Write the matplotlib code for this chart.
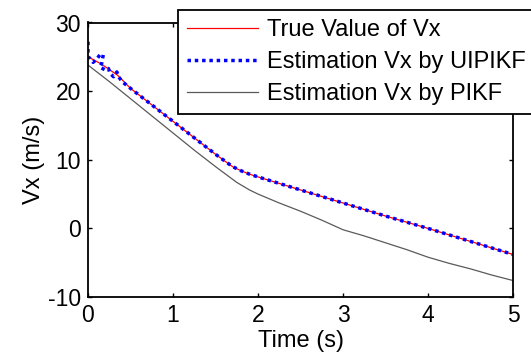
import numpy as np
import matplotlib
matplotlib.use("Agg")
import matplotlib.pyplot as plt

plt.rcParams['font.family'] = ['Liberation Sans', 'DejaVu Sans']
plt.rcParams['axes.unicode_minus'] = False

# ---------------- data ----------------
t_true = [0, 0.15, 0.35, 0.5, 0.75, 1.0, 1.25, 1.5, 1.7, 1.8, 1.9, 2.0, 2.5, 3.0, 3.5, 4.0, 4.5, 5.0]
v_true = [25.0, 24.0, 22.3, 20.4, 18.0, 15.6, 13.2, 10.8, 9.0, 8.4, 7.9, 7.5, 5.6, 3.7, 1.8, 0.0, -1.9, -3.8]

t_ui = [0, 0.0, 0.02, 0.06, 0.1, 0.14, 0.18, 0.16, 0.14, 0.2, 0.24, 0.26, 0.3, 0.34, 0.36, 0.4,
        0.5, 0.75, 1.0, 1.25, 1.5, 1.7, 1.8, 1.9, 2.0, 2.5, 3.0, 3.5, 4.0, 4.5, 5.0]
v_ui = [27.2, 25.0, 24.8, 24.2, 24.6, 25.3, 25.3, 24.0, 23.5, 23.1, 23.3, 22.6, 22.1, 22.8, 22.1, 21.4,
        20.4, 18.0, 15.6, 13.2, 10.8, 9.0, 8.4, 7.9, 7.5, 5.6, 3.7, 1.8, 0.0, -1.9, -3.8]

t_pikf = [0, 0.25, 0.5, 0.75, 1.0, 1.25, 1.5, 1.75, 1.9, 2.0, 2.25, 2.5, 2.75, 3.0, 3.25, 3.5,
          3.75, 4.0, 4.25, 4.5, 4.75, 5.0]
v_pikf = [23.8, 21.4, 18.9, 16.4, 13.9, 11.4, 9.0, 6.7, 5.6, 5.0, 3.7, 2.5, 1.2, -0.2, -1.1, -2.1,
          -3.1, -4.2, -5.1, -5.9, -6.8, -7.6]

labels = ["True Value of Vx", "Estimation Vx by UIPIKF", "Estimation Vx by PIKF"]

#############################################################
fig = plt.figure(figsize=(5.31, 3.6), dpi=100)
ax = fig.add_axes([88/531, 1-297/360, (513-88)/531, (297-22.5)/360])

ax.plot(t_true, v_true, color='red', lw=0.9, label=labels[0])
ax.plot(t_ui, v_ui, color='blue', lw=2.5, linestyle=(0, (1, 1.1)), label=labels[1])
ax.plot(t_pikf, v_pikf, color='#5a5a5a', lw=0.9, label=labels[2])

ax.set_xlim(0, 5)
ax.set_ylim(-10, 30)
ax.set_xticks([0, 1, 2, 3, 4, 5])
ax.set_yticks([-10, 0, 10, 20, 30])
ax.tick_params(direction='in', length=3, width=1, top=True, right=True, labelsize=16.5, pad=5)
for s in ax.spines.values():
    s.set_linewidth(1.3)
ax.set_xlabel("Time (s)", fontsize=17, labelpad=2)
ax.set_ylabel("Vx (m/s)", fontsize=17, labelpad=2)

leg = ax.legend(loc='upper left', bbox_to_anchor=(178/531, 1-9.5/360),
                bbox_transform=fig.transFigure, fontsize=17, fancybox=False,
                framealpha=1, edgecolor='black', borderaxespad=0, handlelength=3.0,
                handletextpad=0.35, labelspacing=0.42, borderpad=0.4)
leg.get_frame().set_linewidth(1.3)

plt.savefig("out.png", dpi=100)
plt.close()
